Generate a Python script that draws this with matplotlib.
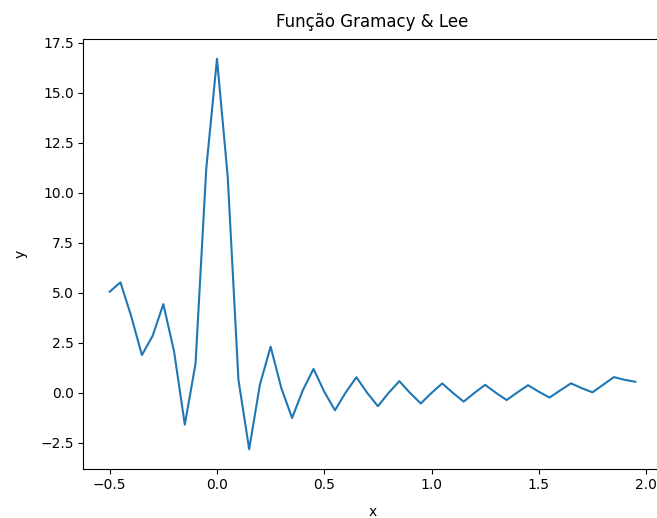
import matplotlib
matplotlib.use("Agg")
import matplotlib.pyplot as plt

x = [-0.5, -0.45, -0.4, -0.35, -0.3, -0.25, -0.2, -0.15, -0.1, -0.05,
     0.0, 0.05, 0.1, 0.15, 0.2, 0.25, 0.3, 0.35, 0.4, 0.45,
     0.5, 0.55, 0.6, 0.65, 0.7, 0.75, 0.8, 0.85, 0.9, 0.95,
     1.0, 1.05, 1.1, 1.15, 1.2, 1.25, 1.3, 1.35, 1.4, 1.45,
     1.5, 1.55, 1.6, 1.65, 1.7, 1.75, 1.8, 1.85, 1.9, 1.95]
y = [5.0625, 5.5316, 3.8416, 1.8929, 2.8561, 4.4414, 2.0736, -1.5843, 1.4641, 11.2155,
     16.708, 10.8145, 0.6561, -2.8113, 0.4096, 2.3164, 0.2401, -1.2501, 0.1296, 1.2026,
     0.0625, -0.8681, 0.0256, 0.7842, 0.0081, -0.6628, 0.0016, 0.5887, 0.0001, -0.5263,
     0.0, 0.4762, 0.0001, -0.4343, 0.0016, 0.4039, 0.0081, -0.3554, 0.0256, 0.3858,
     0.0625, -0.2311, 0.1296, 0.4815, 0.2401, 0.0307, 0.4096, 0.7923, 0.6561, 0.5581]

fig = plt.figure(figsize=(6.57, 5.18), dpi=100)
ax = fig.add_axes([0.127, 0.0952, 0.880, 0.829])
ax.plot(x, y)
ax.set_title("Função Gramacy & Lee", pad=9)
ax.set_xlabel("x", labelpad=9)
ax.set_ylabel("y", labelpad=9)
fig.savefig("out.png", dpi=100)
